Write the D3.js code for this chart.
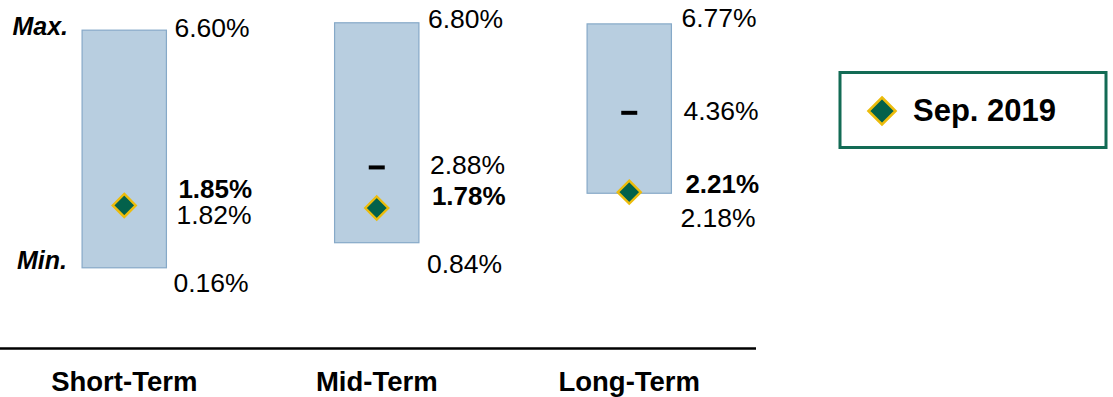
<!DOCTYPE html>
<html>
<head>
<meta charset="utf-8">
<script src="https://cdn.jsdelivr.net/npm/d3@7"></script>
<style>
  html, body { margin: 0; padding: 0; background: #fff; }
  svg { display: block; font-family: "Liberation Sans", Arial, sans-serif; }
</style>
</head>
<body>
<svg id="chart" width="1113" height="397"></svg>
<script>
// ---- data ----
const categories = ["Short-Term", "Mid-Term", "Long-Term"];
const maxValues = [6.60, 6.80, 6.77];
const minValues = [0.16, 0.84, 2.18];
const midValues = [1.82, 2.88, 4.36];
const sepValues = [1.85, 1.78, 2.21];
const seriesName = "Sep. 2019";

// ---- layout ----
const svg = d3.select("#chart");

const y = d3.scaleLinear().domain([0, 7]).range([273.7, 15.4]);
const x = d3.scaleBand().domain(categories).range([-2, 755.5])
  .paddingInner(0.666).paddingOuter(0.333);

// label baseline nudges relative to the value's position (manual PowerPoint-style labels)
const maxDy = [7, 5, 3];
const minDy = [24, 30, 34];
const midDy = [17, 6.6, 7];
const sepDy = [-7.8, -3, 1];
const labelGap = [10, 11, 12];

const fmt = v => v.toFixed(2) + "%";

// range boxes
svg.selectAll("rect.range").data(categories).join("rect")
  .attr("class", "range")
  .attr("x", d => x(d))
  .attr("width", x.bandwidth())
  .attr("y", (d, i) => y(maxValues[i]))
  .attr("height", (d, i) => y(minValues[i]) - y(maxValues[i]))
  .attr("fill", "#b8cee0")
  .attr("stroke", "#86a9c8")
  .attr("stroke-width", 1.2);

// median dashes
svg.selectAll("rect.mid").data(categories).join("rect")
  .attr("class", "mid")
  .attr("x", d => x(d) + x.bandwidth() / 2 - 8)
  .attr("width", 16)
  .attr("y", (d, i) => y(midValues[i]) - 2)
  .attr("height", 4)
  .attr("fill", "#000");

// diamonds
const diamond = r => `M0,${-r}L${r},0L0,${r}L${-r},0Z`;
svg.selectAll("path.sep").data(categories).join("path")
  .attr("class", "sep")
  .attr("d", diamond(11.5))
  .attr("transform", (d, i) => `translate(${x(d) + x.bandwidth() / 2},${y(sepValues[i])})`)
  .attr("fill", "#03614b")
  .attr("stroke", "#ecbc0c")
  .attr("stroke-width", 2.4);

// value labels
function labels(cls, vals, dy, weight, gapAdj, size) {
  svg.selectAll("text." + cls).data(categories).join("text")
    .attr("class", cls)
    .attr("x", (d, i) => x(d) + x.bandwidth() + labelGap[i] + gapAdj)
    .attr("y", (d, i) => y(vals[i]) + dy[i])
    .attr("font-size", size)
    .attr("font-weight", weight)
    .attr("fill", "#000")
    .text((d, i) => fmt(vals[i]));
}
labels("maxl", maxValues, maxDy, "normal", -2, 26.5);
labels("minl", minValues, minDy, "normal", -3, 26.5);
labels("midl", midValues, midDy, "normal", 0, 26.5);
labels("sepl", sepValues, sepDy, "bold", 2, 26);

// Max. / Min.
svg.append("text").attr("x", 68).attr("y", 35)
  .attr("text-anchor", "end").attr("font-size", 25)
  .attr("font-weight", "bold").attr("font-style", "italic").text("Max.");
svg.append("text").attr("x", 67).attr("y", 269)
  .attr("text-anchor", "end").attr("font-size", 25)
  .attr("font-weight", "bold").attr("font-style", "italic").text("Min.");

// baseline axis line
svg.append("line").attr("x1", 0).attr("x2", 756)
  .attr("y1", 348.5).attr("y2", 348.5)
  .attr("stroke", "#000").attr("stroke-width", 2.5);

// category axis labels
const xAxis = d3.axisBottom(x).tickSize(0).tickPadding(0);
const ax = svg.append("g").attr("transform", "translate(0,371)").call(xAxis);
ax.select(".domain").remove();
ax.selectAll("text")
  .attr("font-size", 27.5)
  .attr("font-weight", "bold")
  .attr("font-family", "Liberation Sans, Arial, sans-serif")
  .attr("fill", "#000")
  .attr("dy", "0.72em");

// legend
const lg = svg.append("g");
lg.append("rect").attr("x", 840).attr("y", 72.5).attr("width", 266).attr("height", 75)
  .attr("fill", "#fff").attr("stroke", "#136b55").attr("stroke-width", 3);
lg.append("path").attr("d", diamond(13.5))
  .attr("transform", "translate(882,111)")
  .attr("fill", "#03614b").attr("stroke", "#ecbc0c").attr("stroke-width", 2.6);
lg.append("text").attr("x", 913).attr("y", 121)
  .attr("font-size", 31).attr("font-weight", "bold").text(seriesName);
</script>
</body>
</html>
